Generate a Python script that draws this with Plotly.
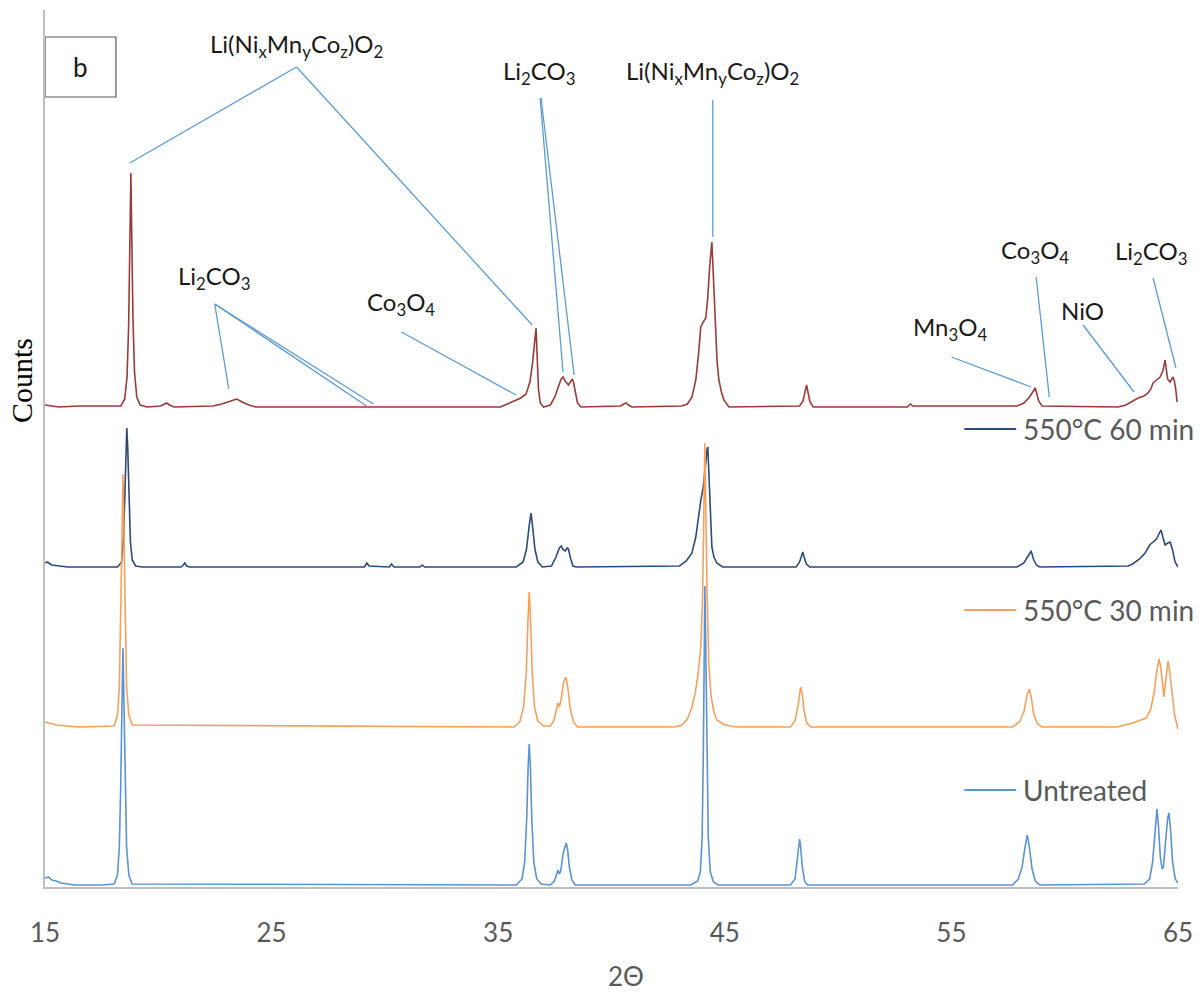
import plotly.graph_objects as go

# ---------------- data (2θ, counts in arbitrary offset units) ----------------
untreated_x = [15.00, 15.15, 15.3, 15.5, 15.7, 16.0, 16.3, 17.5, 18.05, 18.20, 18.28, 18.34, 18.40, 18.44, 18.48,
               18.54, 18.60, 18.70, 18.85,
               35.8, 36.05, 36.17, 36.26, 36.32, 36.37, 36.42, 36.48, 36.57, 36.70, 36.9,
               37.3, 37.48, 37.58, 37.64, 37.70, 37.76, 37.86, 37.95, 38.00, 38.06, 38.14, 38.25, 38.4,
               43.5, 43.80, 43.92, 44.00, 44.05, 44.09, 44.12, 44.16, 44.21, 44.27, 44.36, 44.5, 44.7,
               47.9, 48.10, 48.20, 48.27, 48.30, 48.34, 48.42, 48.52, 48.65,
               57.7, 57.95, 58.12, 58.25, 58.35, 58.44, 58.56, 58.70, 58.9,
               63.5, 63.75, 63.88, 63.98, 64.07, 64.14, 64.22, 64.30, 64.36, 64.45, 64.54, 64.60, 64.67,
               64.76, 64.88, 65.0]
untreated_y = [9, 10, 7, 6, 4, 3, 2, 2, 3, 12, 40, 100, 190, 239, 190,
               100, 40, 12, 3,
               2, 8, 25, 70, 120, 143, 120, 70, 25, 8, 3,
               2, 6, 14, 17, 13, 16, 33, 42, 44, 38, 20, 7, 2,
               2, 6, 15, 50, 130, 240, 301, 240, 130, 50, 15, 5, 2,
               2, 8, 25, 42, 48, 42, 20, 6, 2,
               2, 8, 20, 40, 52, 40, 18, 6, 2,
               3, 8, 25, 55, 78, 60, 30, 18, 20, 45, 68, 74, 58,
               25, 8, 4]

t30_x = [15.0, 15.2, 15.5, 16.0, 16.5, 18.05, 18.20, 18.28, 18.34, 18.40, 18.44, 18.48, 18.54, 18.60, 18.70, 18.85,
         35.7, 35.95, 36.12, 36.24, 36.31, 36.37, 36.43, 36.50, 36.60, 36.75, 37.0,
         37.3, 37.45, 37.56, 37.64, 37.70, 37.78, 37.88, 37.96, 38.00, 38.08, 38.18, 38.32, 38.5,
         42.8, 43.11, 43.35, 43.55, 43.70, 43.82, 43.94, 44.02, 44.08, 44.12, 44.16, 44.22, 44.30, 44.40,
         44.52, 44.65, 45.0, 45.5,
         47.9, 48.10, 48.22, 48.30, 48.35, 48.41, 48.50, 48.62, 48.8,
         57.7, 58.0, 58.20, 58.34, 58.44, 58.52, 58.64, 58.8, 59.0,
         62.3, 63.0, 63.4, 63.6, 63.80, 63.95, 64.06, 64.16, 64.24, 64.32, 64.38, 64.45, 64.52, 64.56,
         64.62, 64.72, 64.85, 65.0]
t30_y = [165, 164, 162, 161, 160, 161, 172, 200, 260, 350, 413, 350, 260, 200, 172, 162,
         160, 165, 180, 215, 265, 295, 265, 215, 180, 166, 161,
         161, 166, 178, 184, 180, 188, 204, 209, 209, 198, 178, 165, 160,
         160, 162, 168, 180, 195, 212, 240, 290, 380, 444, 380, 290, 220, 190,
         175, 167, 162, 160,
         160, 166, 180, 196, 200, 194, 176, 164, 160,
         160, 165, 175, 192, 198, 190, 172, 163, 160,
         160, 164, 167, 169, 178, 195, 215, 228, 220, 200, 190, 205, 222, 226,
         218, 195, 172, 158]

t60_x = [15.0, 15.1, 15.3, 15.6, 16.0, 18.2, 18.38, 18.47, 18.53, 18.58, 18.61, 18.65, 18.70, 18.77, 18.85,
         19.0, 19.3,
         21.0, 21.1, 21.17, 21.25, 21.4,
         29.1, 29.2, 29.3, 30.2, 30.29, 30.4, 31.55, 31.65, 31.75,
         35.8, 36.10, 36.25, 36.36, 36.45, 36.52, 36.62, 36.75, 36.95,
         37.35, 37.55, 37.70, 37.78, 37.88, 37.96, 38.04, 38.10, 38.20, 38.30, 38.45,
         43.0, 43.3, 43.55, 43.72, 43.85, 43.95, 44.05, 44.15, 44.22, 44.25, 44.30, 44.36, 44.43, 44.52,
         44.65, 44.9,
         48.15, 48.30, 48.40, 48.44, 48.50, 48.60, 48.75,
         57.9, 58.20, 58.40, 58.52, 58.62, 58.75, 58.9,
         62.8, 63.0, 63.3, 63.55, 63.75, 63.90, 64.05, 64.18, 64.25, 64.33, 64.43, 64.55, 64.65, 64.75,
         64.87, 65.0]
t60_y = [324, 325, 322, 321, 320, 320, 325, 350, 400, 445, 459, 440, 395, 345, 327,
         321, 320,
         320, 322, 324, 321, 320,
         320, 324, 321, 320, 323, 320, 320, 322, 320,
         320, 325, 338, 360, 374, 360, 338, 325, 320,
         321, 330, 339, 341, 337, 336, 339, 338, 328, 321, 320,
         321, 326, 334, 350, 374, 388, 400, 425, 438, 440, 410, 370, 340, 330,
         324, 320,
         320, 325, 333, 335, 330, 323, 320,
         320, 324, 332, 336, 328, 322, 320,
         321, 323, 328, 334, 342, 345, 348, 354, 357, 350, 342, 344, 345, 338,
         325, 320]

top_x = [15.0, 15.3, 15.6, 16.5, 18.35, 18.52, 18.62, 18.69, 18.74, 18.79, 18.83, 18.88, 18.95, 19.05, 19.2,
         19.5,
         20.1, 20.25, 20.37, 20.5, 20.7,
         22.4, 22.8, 23.2, 23.46, 23.7, 24.0, 24.3,
         35.1, 35.4, 35.7, 36.0, 36.23, 36.40, 36.52, 36.60, 36.67, 36.72, 36.78, 36.86, 37.0,
         37.3, 37.50, 37.65, 37.78, 37.86, 37.96, 38.10, 38.16, 38.27, 38.32, 38.40, 38.50, 38.65,
         40.4, 40.55, 40.64, 40.75, 40.9,
         43.1, 43.35, 43.55, 43.72, 43.85, 43.94, 44.05, 44.16, 44.25, 44.33, 44.43, 44.50, 44.58, 44.66,
         44.74, 44.85, 44.96, 45.18,
         48.3, 48.45, 48.55, 48.61, 48.67, 48.76, 48.9,
         53.05, 53.19, 53.3,
         57.9, 58.2, 58.45, 58.62, 58.70, 58.76, 58.85, 59.0,
         62.36, 62.7, 62.93, 63.24, 63.5, 63.68, 63.80, 63.90, 64.05, 64.21, 64.33, 64.43, 64.48, 64.54,
         64.65, 64.74, 64.78, 64.84, 64.90, 64.96]
top_y = [482, 481, 480, 481, 481, 488, 510, 560, 640, 714, 650, 570, 515, 490, 482,
         480,
         481, 483, 484, 482, 480,
         481, 483, 486, 488, 485, 482, 480,
         480, 483, 486, 489, 493, 505, 525, 545, 559, 530, 497, 484, 480,
         482, 490, 500, 508, 510, 506, 502, 504, 508, 505, 494, 484, 480,
         481, 483, 484, 482, 480,
         481, 483, 490, 507, 535, 560, 565, 569, 590, 620, 645, 610, 560, 525,
         507, 495, 487, 480,
         481, 486, 496, 502, 495, 485, 480,
         480, 483, 481,
         481, 484, 490, 497, 499, 494, 486, 481,
         480, 482, 485, 489, 491, 494, 498, 504, 507, 510, 516, 527, 518, 508,
         505, 508, 510, 506, 498, 485]

series_names = ["550°C (top)", "550°C 60 min", "550°C 30 min", "Untreated"]
series_colors = ["#9A3B3A", "#2C4A7C", "#F7A05C", "#5B93D3"]

x_ticks = [15, 25, 35, 45, 55, 65]

# peak labels: (text, label x, label y, [(x0, y0, x1, y1), ...])
peak_labels = [
    ("Li(Ni<sub>x</sub>Mn<sub>y</sub>Co<sub>z</sub>)O<sub>2</sub>", 26.10, 842,
     [(26.10, 820, 18.74, 724), (26.10, 820, 36.50, 562)]),
    ("Li<sub>2</sub>CO<sub>3</sub>", 36.81, 815,
     [(36.85, 789, 37.86, 515), (36.89, 789, 38.35, 512)]),
    ("Li(Ni<sub>x</sub>Mn<sub>y</sub>Co<sub>z</sub>)O<sub>2</sub>", 44.47, 815,
     [(44.47, 787, 44.47, 650)]),
    ("Li<sub>2</sub>CO<sub>3</sub>", 22.44, 610,
     [(22.49, 583, 23.11, 498), (22.49, 583, 29.19, 481), (22.49, 583, 29.49, 483)]),
    ("Co<sub>3</sub>O<sub>4</sub>", 30.73, 584,
     [(30.73, 555, 35.79, 492)]),
    ("Mn<sub>3</sub>O<sub>4</sub>", 54.96, 559,
     [(55.00, 530, 58.52, 500)]),
    ("Co<sub>3</sub>O<sub>4</sub>", 58.70, 636,
     [(58.74, 610, 59.32, 490)]),
    ("NiO", 60.77, 577,
     [(60.81, 562, 63.06, 495)]),
    ("Li<sub>2</sub>CO<sub>3</sub>", 63.81, 635,
     [(63.90, 609, 64.91, 519)]),
]

# inline legend: (series index, y level)
legend_items = [(1, 458), (2, 277), (3, 97)]
legend_x0, legend_x1, legend_text_x = 55.57, 57.86, 58.08

# ---------------- figure ----------------
fig = go.Figure()
all_x = [top_x, t60_x, t30_x, untreated_x]
all_y = [top_y, t60_y, t30_y, untreated_y]
for name, c, xs, ys in zip(series_names, series_colors, all_x, all_y):
    fig.add_trace(go.Scatter(x=xs, y=ys, mode="lines", name=name,
                             line=dict(color=c, width=1.6), showlegend=False,
                             hoverinfo="skip"))

label_font = dict(family="Lato, 'Open Sans', sans-serif", size=24, color="#1a1a1a")
line_col = "#5B9BD5"
for text, lx, ly, segs in peak_labels:
    fig.add_annotation(x=lx, y=ly, xref="x", yref="y", text=text, showarrow=False,
                       font=label_font, xanchor="center", yanchor="middle")
    for (x0, y0, x1, y1) in segs:
        fig.add_shape(type="line", x0=x0, y0=y0, x1=x1, y1=y1, xref="x", yref="y",
                      line=dict(color=line_col, width=1.3))

for idx, ly in legend_items:
    fig.add_shape(type="line", x0=legend_x0, x1=legend_x1, y0=ly, y1=ly, xref="x", yref="y",
                  line=dict(color=series_colors[idx], width=2))
    fig.add_annotation(x=legend_text_x, y=ly, xref="x", yref="y", text=series_names[idx],
                       showarrow=False, xanchor="left", yanchor="middle",
                       font=dict(family="Lato, sans-serif", size=28, color="#595959"))

# panel letter box
fig.add_shape(type="rect", x0=15.0, x1=18.13, y0=790, y1=850, xref="x", yref="y",
              line=dict(color="#595959", width=1.2), fillcolor="white", layer="above")
fig.add_annotation(x=16.55, y=820, xref="x", yref="y", text="b", showarrow=False,
                   font=dict(family="Lato, sans-serif", size=26, color="#1a1a1a"))

# axis titles
fig.add_annotation(x=-0.0203, y=0.577, xref="paper", yref="paper", text="Counts", textangle=-90,
                   showarrow=False, xanchor="center", yanchor="middle",
                   font=dict(family="'Liberation Serif', 'Times New Roman', serif", size=30, color="black"))
fig.add_annotation(x=0.513, y=-0.102, xref="paper", yref="paper", text="2Θ", showarrow=False,
                   xanchor="center", yanchor="middle",
                   font=dict(family="Lato, sans-serif", size=26, color="#595959"))

fig.update_layout(
    width=1203, height=992,
    margin=dict(l=45, r=23, t=10, b=105),
    plot_bgcolor="white", paper_bgcolor="white",
    xaxis=dict(range=[15, 65], tickvals=x_ticks, ticktext=[str(v) for v in x_ticks],
               showgrid=False, zeroline=False, showline=True, linecolor="#BFBFBF", linewidth=1.5,
               ticks="", tickfont=dict(family="Lato, sans-serif", size=26, color="#595959"),
               ticklabelstandoff=22),
    yaxis=dict(range=[0, 877], showgrid=False, zeroline=False, showline=True, linecolor="#BFBFBF",
               linewidth=1.5, showticklabels=False, ticks=""),
)

fig.write_html("out.html", config={"displayModeBar": False},
               post_script="document.body.style.margin='0';document.body.style.overflow='hidden';")
